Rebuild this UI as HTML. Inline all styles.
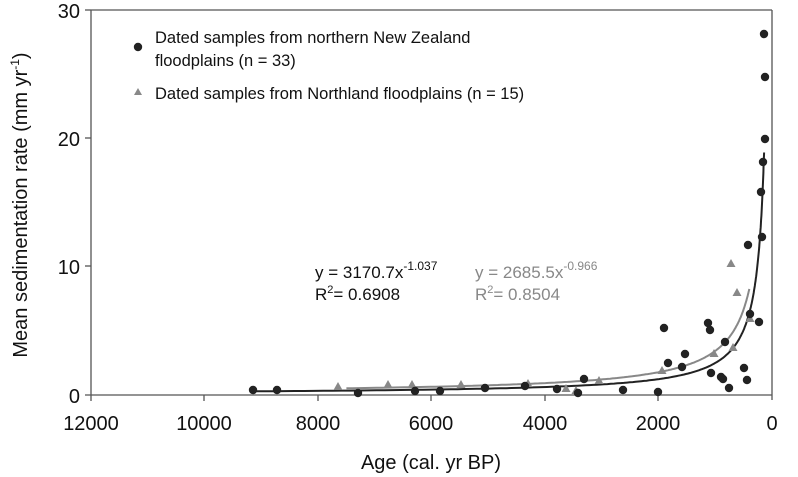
<!DOCTYPE html>
<html><head><meta charset="utf-8"><style>
body{margin:0;background:#fff}
svg{display:block;font-family:"Liberation Sans",Arial,sans-serif}
</style></head><body>
<svg id="s" width="798" height="477" viewBox="0 0 798 477">
<rect width="798" height="477" fill="#fff"/>
<g stroke="#555" stroke-width="1.3" fill="none">
<line x1="91" y1="10" x2="91" y2="395"/>
<line x1="91" y1="10" x2="772" y2="10"/>
<line x1="772" y1="10" x2="772" y2="400"/>
<line x1="85" y1="395" x2="772" y2="395"/>
<line x1="85" y1="10" x2="91" y2="10"/>
<line x1="85" y1="138" x2="91" y2="138"/>
<line x1="85" y1="266" x2="91" y2="266"/>
<line x1="91" y1="395" x2="91" y2="401"/>
<line x1="204" y1="395" x2="204" y2="401"/>
<line x1="318" y1="395" x2="318" y2="401"/>
<line x1="431" y1="395" x2="431" y2="401"/>
<line x1="545" y1="395" x2="545" y2="401"/>
<line x1="658" y1="395" x2="658" y2="401"/>
</g>
<g font-size="20" fill="#111" text-anchor="end">
<text x="80" y="403">0</text><text x="80" y="274">10</text><text x="80" y="146">20</text><text x="80" y="18">30</text>
</g>
<g font-size="20" fill="#111" text-anchor="middle">
<text x="91" y="430">12000</text><text x="204" y="430">10000</text><text x="318" y="430">8000</text>
<text x="431" y="430">6000</text><text x="545" y="430">4000</text><text x="658" y="430">2000</text><text x="772" y="430">0</text>
<text x="431" y="469">Age (cal. yr BP)</text>
</g>
<text transform="translate(27,205) rotate(-90)" font-size="20" fill="#111" text-anchor="middle">Mean sedimentation rate (mm yr<tspan dy="-8" font-size="12">-1</tspan><tspan dy="8">)</tspan></text>
<circle cx="138" cy="47" r="4.2" fill="#222"/>
<text x="155" y="43" font-size="16.5" fill="#111">Dated samples from northern New Zealand</text>
<text x="155" y="66" font-size="16.5" fill="#111">floodplains  (n = 33)</text>
<polygon points="138,88 142,95 134,95" fill="#888"/>
<text x="155" y="99" font-size="16.5" fill="#111">Dated samples from Northland floodplains (n = 15)</text>
<text x="315" y="278" font-size="17" fill="#111">y = 3170.7x<tspan dy="-8" font-size="12">-1.037</tspan></text>
<text x="315" y="300" font-size="17" fill="#111">R<tspan dy="-7" font-size="11">2</tspan><tspan dy="7">= 0.6908</tspan></text>
<text x="475" y="278" font-size="17" fill="#888">y = 2685.5x<tspan dy="-8" font-size="12">-0.966</tspan></text>
<text x="475" y="300" font-size="17" fill="#888">R<tspan dy="-7" font-size="11">2</tspan><tspan dy="7">= 0.8504</tspan></text>
<path id="gc" fill="none" stroke="#888" stroke-width="2"/>
<path id="bc" fill="none" stroke="#222" stroke-width="2"/>
<g id="tri" fill="#888"></g>
<g id="dots" fill="#222"></g>
</svg>
<script>
function X(a){return 772-a*681/12000}
function Y(v){return 394.5-v*12.83}
function curve(a,b,x0,x1){var d="";for(var i=0;i<=200;i++){var t=i/200;var x=x0*Math.pow(x1/x0,t);d+=(i?"L":"M")+X(x).toFixed(1)+","+Y(a*Math.pow(x,-b)).toFixed(1);}return d;}
document.getElementById("bc").setAttribute("d",curve(3170.7,1.037,9150,140));
document.getElementById("gc").setAttribute("d",curve(2685.5,0.966,7500,400));
var dots=[[253,390],[277,390],[358,393],[415,391],[440,391],[485,388],[525,386],[557,389],[584,379],[578,393],[623,390],[658,392],[664,328],[668,363],[682,367],[685,354],[708,323],[710,330],[725,342],[711,373],[721,377],[723,379],[729,388],[744,368],[747,380],[750,314],[759,322],[748,245],[762,237],[763,162],[761,192],[765,139],[765,77],[764,34]];
var g=document.getElementById("dots"),h="";dots.forEach(function(p){h+='<circle cx="'+p[0]+'" cy="'+p[1]+'" r="4.2"/>'});g.innerHTML=h;
var tri=[[338,387],[388,385],[412,385],[461,385],[528,384],[566,389],[576,391],[599,381],[662,371],[714,354],[733,348],[750,319],[737,293],[731,264]];
h="";tri.forEach(function(p){h+='<polygon points="'+p[0]+','+(p[1]-5)+' '+(p[0]+4.5)+','+(p[1]+3)+' '+(p[0]-4.5)+','+(p[1]+3)+'"/>'});document.getElementById("tri").innerHTML=h;
</script>
</body></html>
